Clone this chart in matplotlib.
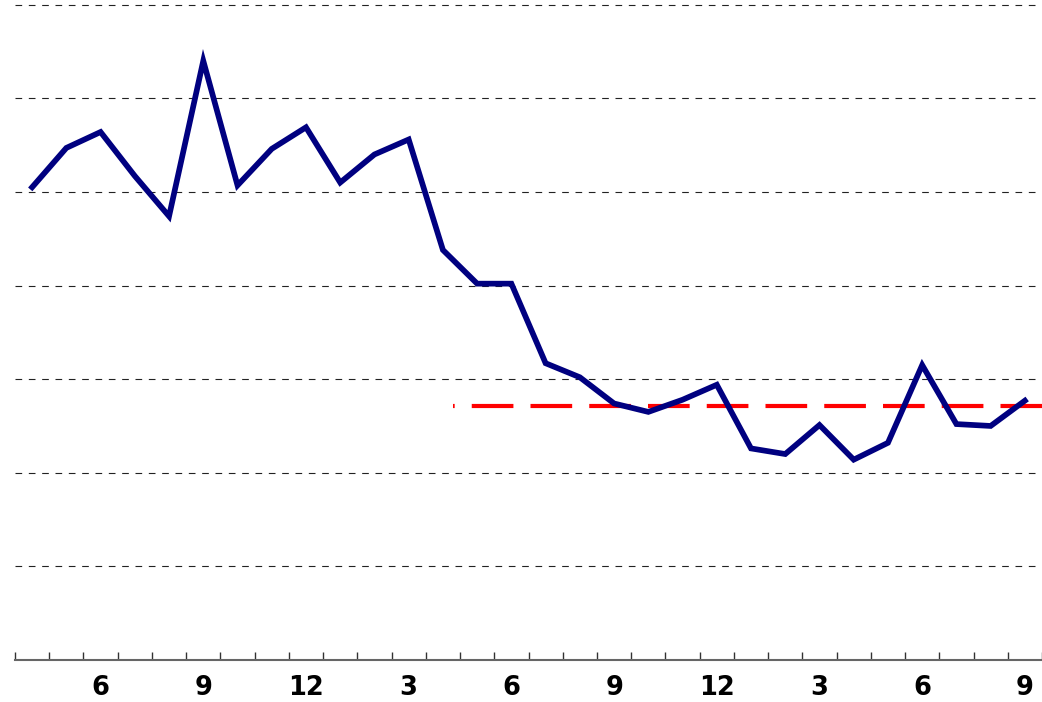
import numpy as np
import matplotlib.pyplot as plt
from matplotlib.ticker import FixedLocator

# hourly readings, 4 am through 9 am the next day
hours = list(range(4, 34))
values = [5.05, 5.47, 5.64, 5.17, 4.74, 6.40, 5.07, 5.46, 5.69, 5.10,
          5.40, 5.56, 4.38, 4.02, 4.02, 3.17, 3.02, 2.74, 2.65, 2.78,
          2.94, 2.26, 2.20, 2.51, 2.14, 2.32, 3.15, 2.52, 2.50, 2.77]

label_hours = [6, 9, 12, 15, 18, 21, 24, 27, 30, 33]
tick_labels = ['6', '9', '12', '3', '6', '9', '12', '3', '6', '9']

ref_level = 2.71
ref_start = 16.29

grid_levels = [1, 2, 3, 4, 5, 6, 7]

fig = plt.figure(figsize=(10.42, 7.02), dpi=100)
ax = fig.add_axes([15 / 1042, 42 / 702, 1 - 15 / 1042, 660 / 702])

for g in grid_levels:
    ax.axhline(g, color='#222222', lw=0.8, linestyle=(0, (6, 6)), zorder=1)

ax.plot(hours, values, color='#000080', lw=4.1, solid_joinstyle='miter', zorder=3)
ax.plot([ref_start, 33.5], [ref_level, ref_level], color='#ff0000', lw=3,
        linestyle=(9.6, (10, 4.1)), zorder=2)

ax.set_xlim(3.5, 33.5)
ax.set_ylim(0, 7.05)

ax.xaxis.set_major_locator(FixedLocator(label_hours))
ax.set_xticklabels(tick_labels, fontsize=18.5, fontweight='bold')
ax.xaxis.set_minor_locator(FixedLocator(np.arange(3.5, 34, 1)))
ax.tick_params(axis='x', which='major', length=0, pad=11)
ax.tick_params(axis='x', which='minor', direction='in', length=6, width=1, color='#333333')
ax.set_yticks([])

for side in ['left', 'right', 'top']:
    ax.spines[side].set_visible(False)
ax.spines['bottom'].set_color('#666666')
ax.spines['bottom'].set_linewidth(1.5)

fig.savefig('out.png', dpi=100)
